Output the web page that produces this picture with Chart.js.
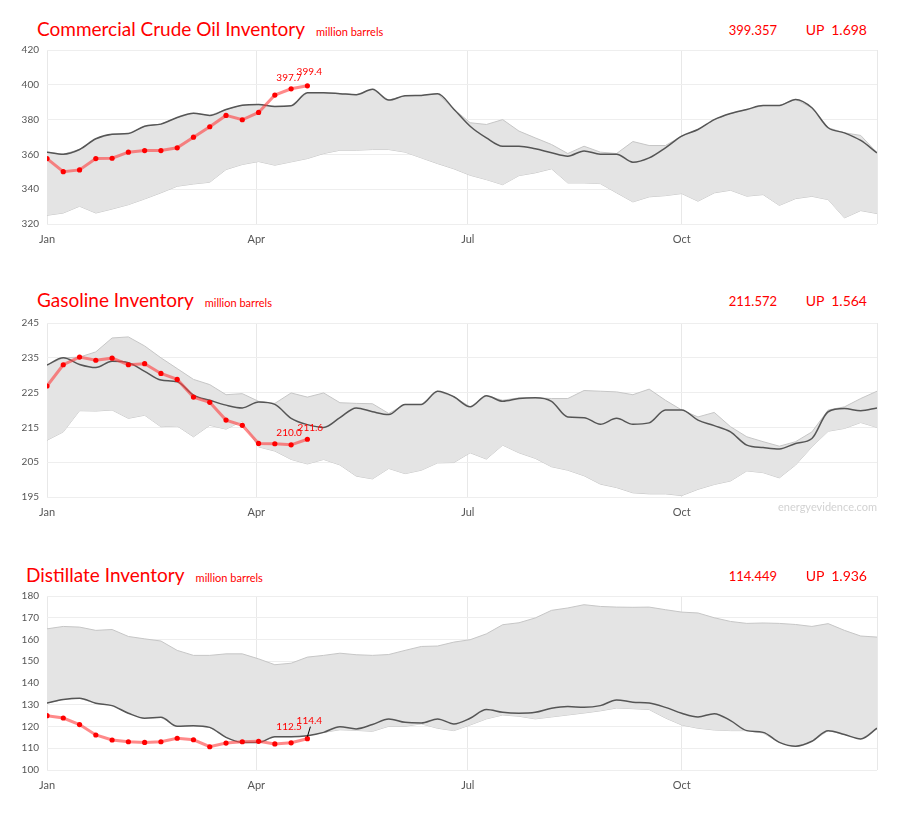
<!DOCTYPE html>
<html><head><meta charset="utf-8">
<script src="https://cdn.jsdelivr.net/npm/chart.js@4.4.1/dist/chart.umd.min.js"></script>
<style>
html,body{margin:0;padding:0;background:#fff;}
body{width:898px;height:814px;position:relative;overflow:hidden;font-family:Lato, "Open Sans", sans-serif;}
.title{position:absolute;color:#ff0000;white-space:nowrap;line-height:24px;}
.title .main{font-size:19px;}
.title .unit{font-size:11px;margin-left:11px;}
.val{position:absolute;color:#ff0000;font-size:13px;line-height:20px;white-space:nowrap;text-align:right;}
.chg{position:absolute;color:#ff0000;font-size:14px;line-height:20px;white-space:pre;text-align:right;}
.box{position:absolute;left:0;width:898px;height:219px;}
.wm{position:absolute;right:21px;top:500px;font-size:11px;color:#d2d2d2;}
</style>
</head><body>

<script>
// ---------------- DATA ----------------
const tickWeeks  = [0, 12.86, 25.86, 39, 51];
const tickLabels = ['Jan', 'Apr', 'Jul', 'Oct', ''];

const chartTitles = ['Commercial Crude Oil Inventory', 'Gasoline Inventory', 'Distillate Inventory'];
const unitLabel = 'million barrels';
const latestValues = ['399.357', '211.572', '114.449'];
const changeLabels = ['UP  1.698', 'UP  1.564', 'UP  1.936'];

// Commercial crude oil
const crudeCurrent  = [357.6,350.1,351.1,357.6,357.8,361.3,362.2,362.2,363.8,369.9,375.9,382.4,379.9,384.1,394.1,397.7,399.4];
const crudeLastYear = [361.3,360.1,362.8,369,371.6,372,376.2,377.4,381.2,383.7,382.4,385.8,388.3,388.7,387.6,387.9,395.4,395.4,394.9,394.3,397.4,391.2,393.7,393.9,394.9,386,376.2,369.5,364.7,364.7,363.2,360.9,359,362,360.1,360.1,355.5,358,363.8,370.5,374.3,380,383.5,385.8,388.1,388.1,391.6,386.8,375.3,372.4,368,360.9];
const crudeMax      = [361.3,360.1,362.8,369,371.6,372,376.2,377.4,381.2,383.7,382.4,385.8,388.3,388.7,387.6,387.9,395.4,395.4,394.9,394.3,397.4,391.2,393.7,393.9,394.9,386,378.2,377.2,380,373.4,369.5,365.7,360.5,364.7,361.3,360.5,367.4,365.1,365.1,370.5,374.3,380,383.5,385.8,388.1,388.1,391.6,386.8,375.3,372.4,370.9,360.9];
const crudeMin      = [325,326.3,330.2,326.3,328.6,331.1,334.4,337.9,341.7,343,344,351.3,354.2,355.9,353.8,355.7,357.6,360.5,362.4,362.4,362.8,362.8,361.3,358,354.7,351.7,348,345.5,342.6,347.8,349.4,351.7,343.6,343.6,343.2,337.9,332.7,335.6,336.3,337.5,333.1,337.9,339.4,336,336.9,330.7,334.6,335.9,334,323.5,327.7,326];

// Gasoline
const gasCurrent  = [226.9,233.0,235.2,234.3,234.9,233.0,233.3,230.5,228.8,223.7,222.2,217.1,215.6,210.4,210.3,210.0,211.6];
const gasLastYear = [232.9,235,233.1,232.2,234,233.6,231.1,228.6,228.1,224.3,222.8,221.4,220.6,222.3,221.6,217.6,215.8,215,217.8,220.6,219.5,218.7,221.6,221.6,225.4,223.8,220.9,224.1,222.5,223.3,223.5,222.5,218,217.8,215.9,217.6,215.9,216.3,220,220,217.1,215.5,213.7,209.9,209.2,208.8,210.4,211.8,219.5,220.4,219.8,220.6];
const gasMax      = [232.9,235,235.2,236.7,240.7,241,238.4,235,231.9,228.8,227.3,224.4,224.7,222.5,221.9,224.9,223.7,224.9,222.1,221.9,221.8,219,221.6,221.6,225.4,223.8,220.9,224.1,222.8,223.5,223.5,223.3,223.3,225.6,225.4,225.2,224.4,226,222.8,220,218,219.3,215.2,212.3,210.9,209.6,210.9,213.7,220,220.9,223.3,225.4];
const gasMin      = [211.3,213.7,219.8,219.7,220,217.6,218.5,215.2,215.4,212.3,215.6,214.5,216.8,209.4,208.2,205.8,204.5,205.8,204.2,201,200.2,203.2,201.7,202.7,204.8,204.9,207.7,205.9,209.9,207.7,206.1,203.7,202.7,201.1,198.7,197.7,196.2,195.9,195.9,195.4,197.2,198.6,199.6,202.5,202,200.5,204.2,209.4,213.9,214.7,216.4,215];

// Distillate
const distCurrent  = [125,123.9,120.9,116.1,113.8,113,112.7,113,114.6,113.9,110.7,112.4,113,113.2,112,112.5,114.4];
const distLastYear = [130.8,132.4,133,130.7,129.6,126.1,123.8,124.2,120.1,120.4,119.6,115,112.7,112.7,115.3,115.3,115.8,117.3,119.9,118.9,120.9,123.5,121.9,121.6,123.5,121.2,123.8,127.8,126.5,126.1,126.5,128.4,129.2,128.8,129.6,132.2,131.2,130.8,128.8,126.1,124.4,125.9,122.7,118.1,117.3,112.7,110.9,113.2,118.1,116.3,114.3,119.2];
const distMax      = [164.9,166,165.7,164.2,164.6,161.4,160.3,159.3,155,152.7,152.7,153.4,153.4,151.1,148.4,149.1,151.9,152.7,153.7,153,152.7,153.1,155,156.8,157,158.8,159.9,162.6,166.8,167.7,169.9,173.4,174.5,176,175.2,174.9,174.8,174.9,173.7,172.6,172.2,170,168.3,167.4,167.6,167.4,166.9,166,167.3,164.2,161.6,161.1];
const distMin      = [130.8,132.4,133,130.7,129.6,126.1,123.8,124.2,120.1,120.4,119.6,115,112.7,112.7,115.3,115.3,115.8,117.3,118.5,118.2,117.8,120.1,120.1,121.2,119.2,118.1,120.7,123.5,125.3,124.7,123.5,124.4,125.3,126.2,127.2,128.5,128.2,127.8,123.9,120.7,119.2,118.4,118.1,118.1,117,112.7,110.9,113.2,118.1,116.3,114.3,119.2];

const yMin  = [320, 195, 100];
const yMax  = [420, 245, 180];
const yStep = [20, 10, 10];
</script>

<div class="title" style="left:37px;top:17px;"><span class="main" id="t0"></span><span class="unit" id="u0"></span></div>
<div class="val" style="right:121px;top:20px;" id="v0"></div>
<div class="chg" style="right:31px;top:20px;" id="c0"></div>
<div class="box" style="top:36px;"><canvas id="ch0"></canvas></div>

<div class="title" style="left:37px;top:288px;"><span class="main" id="t1"></span><span class="unit" id="u1"></span></div>
<div class="val" style="right:121px;top:291px;" id="v1"></div>
<div class="chg" style="right:31px;top:291px;" id="c1"></div>
<div class="box" style="top:309px;"><canvas id="ch1"></canvas></div>
<div class="wm">energyevidence.com</div>

<div class="title" style="left:26px;top:563px;"><span class="main" id="t2"></span><span class="unit" id="u2"></span></div>
<div class="val" style="right:121px;top:566px;" id="v2"></div>
<div class="chg" style="right:31px;top:566px;" id="c2"></div>
<div class="box" style="top:582px;"><canvas id="ch2"></canvas></div>

<script>
const toXY = arr => arr.map((v, i) => ({x: i, y: v}));

const pointLabels = {
  id: 'pointLabels',
  afterDatasetsDraw(chart, args, opts) {
    const meta = chart.getDatasetMeta(0);
    const ds = chart.data.datasets[0].data;
    const ctx = chart.ctx;
    ctx.save();
    ctx.font = '10px Lato, sans-serif';
    ctx.fillStyle = '#ff0000';
    ctx.textAlign = 'center';
    ctx.textBaseline = 'bottom';
    (opts.items || []).forEach(it => {
      const idx = ds.length + it.fromEnd;
      const p = meta.data[idx];
      ctx.fillText(ds[idx].y.toFixed(1), p.x + it.dx, p.y + it.dy);
      if (it.leader) {
        ctx.strokeStyle = '#000';
        ctx.lineWidth = 1;
        ctx.beginPath();
        ctx.moveTo(p.x + 3, p.y + it.dy + 1);
        ctx.lineTo(p.x, p.y - 2);
        ctx.stroke();
      }
    });
    ctx.restore();
  }
};

function makeChart(k, cur, last, mx, mn, labelItems) {
  document.getElementById('t' + k).textContent = chartTitles[k];
  document.getElementById('u' + k).textContent = unitLabel;
  document.getElementById('v' + k).textContent = latestValues[k];
  document.getElementById('c' + k).textContent = changeLabels[k];
  new Chart(document.getElementById('ch' + k), {
    type: 'line',
    data: {
      datasets: [
        {data: toXY(cur), borderColor: 'rgba(255,60,60,0.6)', borderWidth: 3, tension: 0,
         pointRadius: 2.6, pointBackgroundColor: '#ff0000', pointBorderWidth: 0, fill: false},
        {data: toXY(last), borderColor: '#555555', borderWidth: 1.5, cubicInterpolationMode: 'monotone',
         pointRadius: 0, fill: false},
        {data: toXY(mx), borderColor: '#c6c6c6', borderWidth: 1, tension: 0, pointRadius: 0,
         backgroundColor: '#e4e4e4', fill: '+1'},
        {data: toXY(mn), borderColor: '#c6c6c6', borderWidth: 1, tension: 0, pointRadius: 0, fill: false}
      ]
    },
    options: {
      responsive: true, maintainAspectRatio: false, animation: false,
      layout: {padding: {left: 0, right: 21, top: 10, bottom: 0}},
      plugins: {legend: {display: false}, tooltip: {enabled: false}, pointLabels: {items: labelItems}},
      scales: {
        x: {
          type: 'linear', min: 0, max: 51,
          afterBuildTicks: s => { s.ticks = tickWeeks.map(v => ({value: v})); },
          afterFit: s => { s.height = 31; },
          ticks: {
            autoSkip: false, maxRotation: 0, padding: 9, color: '#555',
            font: {family: 'Lato, sans-serif', size: 11},
            callback: (v, i) => tickLabels[i]
          },
          grid: {color: '#e8e8e8', drawTicks: false},
          border: {display: false}
        },
        y: {
          min: yMin[k], max: yMax[k],
          afterFit: s => { s.width = 47; },
          ticks: {stepSize: yStep[k], padding: 8, color: '#555', font: {family: 'Lato, sans-serif', size: 10}},
          grid: {color: '#eeeeee', drawTicks: false},
          border: {display: false}
        }
      }
    },
    plugins: [pointLabels]
  });
}

makeChart(0, crudeCurrent, crudeLastYear, crudeMax, crudeMin,
  [{fromEnd: -2, dx: -2, dy: -6}, {fromEnd: -1, dx: 2, dy: -9}]);
makeChart(1, gasCurrent, gasLastYear, gasMax, gasMin,
  [{fromEnd: -2, dx: -2, dy: -7}, {fromEnd: -1, dx: 3, dy: -6}]);
makeChart(2, distCurrent, distLastYear, distMax, distMin,
  [{fromEnd: -2, dx: -2, dy: -11}, {fromEnd: -1, dx: 2, dy: -13, leader: true}]);
</script>
</body></html>
